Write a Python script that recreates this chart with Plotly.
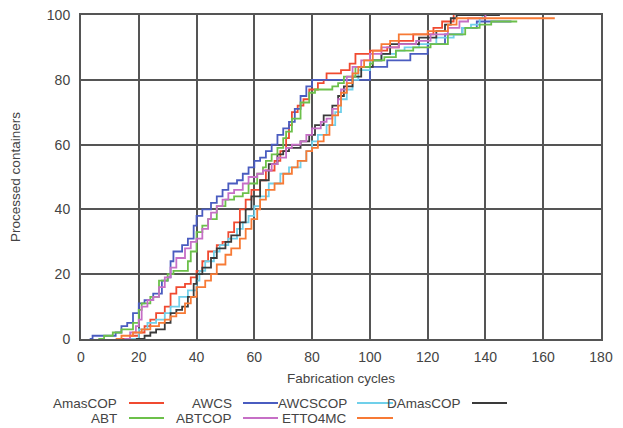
import plotly.graph_objects as go

# ---- data ----
names = ["AmasCOP", "AWCS", "AWCSCOP", "DAmasCOP", "ABT", "ABTCOP", "ETTO4MC"]
colors = ["#f04a30", "#4a5cc0", "#70d0ea", "#3a3a3a", "#6cc04a", "#c66fc6", "#f77a35"]

amascop_x = [14, 17, 20, 22, 24, 26, 29, 31, 33, 36, 38, 40, 42, 44, 47, 49, 51, 53, 55, 57, 59, 62, 64, 67, 69, 71, 72, 73, 75, 77, 79, 82, 84, 85, 90, 93, 95, 100, 106, 110, 115, 122, 125, 129]
amascop_y = [0, 1, 2, 4, 6, 8, 10, 14, 16, 17, 19, 21, 24, 27, 29, 30, 33, 36, 40, 43, 46, 49, 52, 55, 58, 62, 66, 70, 72, 74, 77, 79, 80, 82, 83, 85, 88, 89, 90, 92, 94, 96, 98, 100]

awcs_x = [3, 4, 11, 12, 14, 16, 18, 20, 22, 25, 28, 30, 31, 32, 35, 37, 39, 40, 42, 45, 47, 49, 51, 54, 56, 58, 60, 62, 64, 66, 68, 70, 72, 74, 76, 78, 80, 100, 106, 114, 120, 126, 132, 137, 149]
awcs_y = [0, 1, 1, 2, 4, 5, 8, 11, 12, 14, 18, 19, 24, 27, 29, 31, 35, 38, 40, 42, 44, 46, 48, 49, 51, 53, 55, 56, 58, 60, 63, 65, 67, 71, 75, 78, 80, 84, 86, 88, 91, 94, 96, 98, 98]

awcscop_x = [16, 20, 23, 26, 29, 31, 34, 37, 40, 41, 43, 46, 48, 51, 54, 56, 58, 60, 62, 65, 69, 72, 76, 78, 80, 82, 85, 88, 90, 92, 94, 96, 100, 104, 109, 112, 117, 123, 129, 132, 135, 138, 139]
awcscop_y = [0, 3, 5, 6, 8, 10, 13, 15, 18, 21, 24, 27, 29, 31, 34, 36, 38, 41, 44, 48, 51, 53, 55, 58, 61, 63, 66, 70, 74, 77, 80, 83, 86, 88, 89, 90, 91, 93, 94, 96, 97, 99, 100]

damascop_x = [19, 22, 24, 26, 29, 31, 33, 35, 37, 39, 40, 42, 45, 47, 50, 52, 55, 57, 59, 62, 65, 68, 70, 72, 76, 79, 81, 84, 87, 89, 91, 94, 97, 101, 104, 107, 112, 117, 123, 126, 128, 130, 145]
damascop_y = [0, 1, 2, 3, 5, 8, 9, 10, 13, 17, 20, 22, 25, 28, 30, 32, 36, 40, 44, 49, 54, 57, 58, 59, 61, 63, 66, 69, 72, 75, 78, 81, 84, 86, 88, 91, 91, 93, 95, 97, 99, 100, 100]

abt_x = [6, 8, 11, 14, 18, 20, 21, 24, 27, 30, 32, 35, 37, 38, 40, 42, 44, 47, 50, 53, 56, 58, 61, 63, 64, 66, 68, 70, 71, 73, 76, 79, 81, 87, 89, 91, 95, 100, 101, 105, 109, 115, 121, 127, 133, 138, 142, 151]
abt_y = [0, 1, 2, 3, 5, 9, 11, 13, 18, 20, 21, 21, 24, 27, 33, 35, 37, 41, 43, 44, 45, 48, 51, 53, 55, 57, 59, 62, 64, 68, 73, 76, 77, 78, 79, 81, 84, 85, 86, 87, 89, 90, 91, 94, 96, 97, 98, 98]

abtcop_x = [15, 17, 19, 20, 21, 23, 25, 27, 29, 31, 33, 36, 38, 40, 42, 44, 45, 47, 49, 51, 53, 56, 58, 61, 63, 66, 68, 71, 73, 76, 78, 80, 83, 85, 87, 89, 90, 92, 94, 97, 100, 104, 110, 116, 121, 127, 131, 134, 140]
abtcop_y = [0, 2, 4, 6, 10, 12, 13, 16, 19, 22, 25, 28, 30, 31, 34, 37, 39, 41, 43, 45, 46, 48, 50, 51, 52, 54, 56, 59, 60, 61, 63, 65, 67, 68, 71, 74, 77, 81, 84, 86, 88, 90, 91, 92, 94, 96, 98, 99, 100]

etto4mc_x = [12, 14, 18, 21, 24, 27, 29, 31, 33, 36, 38, 40, 43, 45, 47, 50, 52, 55, 57, 59, 61, 62, 64, 67, 70, 73, 75, 78, 80, 82, 84, 86, 87, 89, 90, 92, 94, 96, 98, 101, 104, 107, 110, 120, 127, 130, 164]
etto4mc_y = [0, 1, 2, 3, 4, 5, 6, 7, 8, 11, 13, 16, 18, 20, 23, 26, 28, 31, 34, 37, 40, 43, 46, 48, 51, 53, 55, 58, 59, 61, 63, 66, 69, 72, 76, 79, 82, 84, 86, 89, 91, 92, 94, 95, 97, 99, 99]

x_ticks = [0, 20, 40, 60, 80, 100, 120, 140, 160, 180]
y_ticks = [0, 20, 40, 60, 80, 100]

series = [
    (amascop_x, amascop_y),
    (awcs_x, awcs_y),
    (awcscop_x, awcscop_y),
    (damascop_x, damascop_y),
    (abt_x, abt_y),
    (abtcop_x, abtcop_y),
    (etto4mc_x, etto4mc_y),
]

FONT = "Liberation Sans, Arial, sans-serif"
TXT = "#444444"
OFF = 8  # page body margin
W, H = 623 - OFF, 428 - OFF
ML, MT = 81 - OFF, 15 - OFF
PW, PH = 520, 324
MR, MB = W - ML - PW, H - MT - PH

fig = go.Figure()
for (xs, ys), name, col in zip(series, names, colors):
    fig.add_trace(go.Scatter(x=xs, y=ys, mode="lines", name=name,
                             line=dict(color=col, width=1.8, shape="hv"),
                             showlegend=False))

# custom legend (text on the left, line sample on the right); positions in viewport px
legend_layout = [
    ("AmasCOP", 119, 129, 164, 403),
    ("AWCS", 234, 243, 278, 403),
    ("AWCSCOP", 349, 357, 393, 403),
    ("DAmasCOP", 463, 472, 507, 403),
    ("ABT", 119, 129, 164, 418),
    ("ABTCOP", 234, 243, 278, 418),
    ("ETTO4MC", 349, 357, 393, 418),
]
def px2paper_x(px):
    return (px - OFF - ML) / PW
def py2paper_y(py):
    return (MT + PH - (py - OFF)) / PH

for name, tr, l0, l1, ry in legend_layout:
    col = colors[names.index(name)]
    fig.add_annotation(text=name, xref="paper", yref="paper",
                       x=px2paper_x(tr), y=py2paper_y(ry), xanchor="right", yanchor="middle",
                       showarrow=False, font=dict(family=FONT, size=13.5, color=TXT))
    fig.add_shape(type="line", xref="paper", yref="paper",
                  x0=px2paper_x(l0), x1=px2paper_x(l1), y0=py2paper_y(ry), y1=py2paper_y(ry),
                  line=dict(color=col, width=2))

axis_common = dict(showgrid=True, gridcolor="#555555", gridwidth=2,
                   showline=True, linecolor="#555555", linewidth=2, mirror=True,
                   zeroline=False, ticks="", ticklabeloverflow="allow",
                   tickfont=dict(family=FONT, size=14, color=TXT))

fig.update_xaxes(range=[0, 180], tickvals=x_ticks, ticklabelstandoff=4,
                 title=dict(text="Fabrication cycles", font=dict(family=FONT, size=13.5, color=TXT), standoff=10),
                 **axis_common)
fig.update_yaxes(range=[0, 100], tickvals=y_ticks, ticklabelstandoff=6,
                 title=dict(text="Processed containers", font=dict(family=FONT, size=13.5, color=TXT), standoff=28),
                 **axis_common)

fig.update_layout(width=W, height=H, margin=dict(l=ML, r=MR, t=MT, b=MB, autoexpand=False),
                  plot_bgcolor="white", paper_bgcolor="white",
                  font=dict(family=FONT, color=TXT))

fig.write_html("out.html")
